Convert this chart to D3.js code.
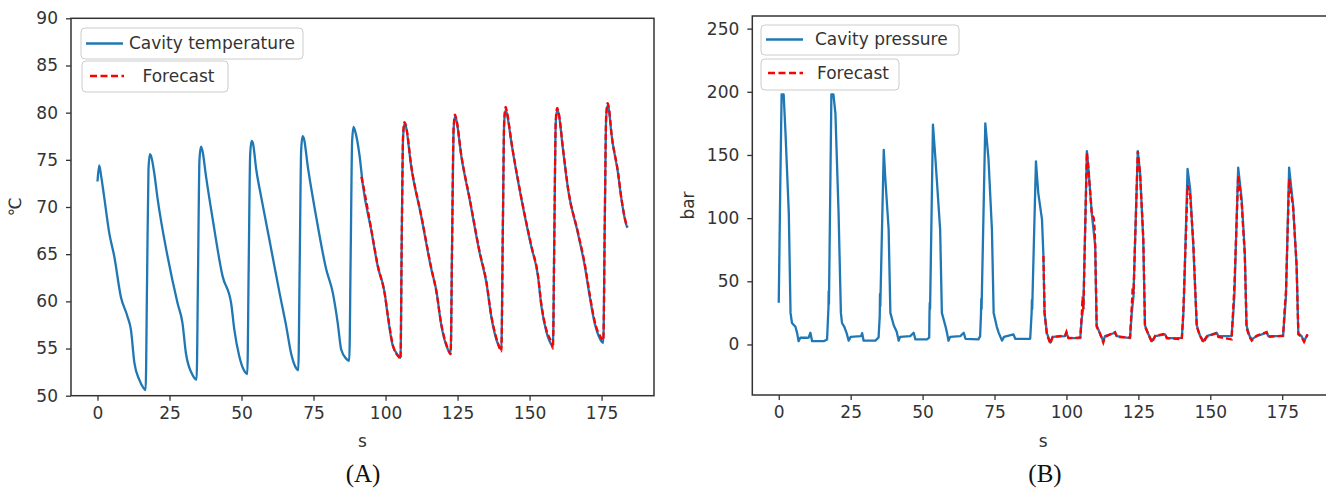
<!DOCTYPE html>
<html>
<head>
<meta charset="utf-8">
<script src="https://cdn.jsdelivr.net/npm/d3@7"></script>
<style>
  html, body { margin: 0; padding: 0; background: #fff; }
  svg { display: block; }
  text { font-family: "DejaVu Sans", sans-serif; }
</style>
</head>
<body>
<svg id="chart" width="1326" height="491"></svg>
<script>
// ---------------- DATA ----------------
// (A) Cavity temperature (s, ℃)
const tempTime = [0.0,0.6,1.2,2.3,4.1,5.8,8.1,10.4,11.6,12.8,14.5,16.0,16.7,17.2,17.7,18.2,18.7,
  19.7,20.9,24.3,27.8,29.5,30.7,33.0,34.4,34.9,35.4,35.9,36.4,
  37.7,40.0,43.4,46.4,47.5,49.2,51.0,52.0,52.5,53.0,53.5,54.0,
  55.1,56.8,59.7,63.2,65.5,67.2,69.0,69.7,70.2,70.7,71.2,71.7,
  73.0,75.9,79.4,81.7,83.4,84.6,86.4,87.4,87.9,88.4,88.9,89.4,
  91.0,92.1,95.0,97.3,99.7,100.8,102.5,104.6,105.2,105.6,106.1,106.6,107.1,
  108.9,112.4,115.9,117.6,119.4,121.5,122.6,123.1,123.6,124.1,124.6,
  126.3,129.2,132.7,135.0,136.7,139.0,140.2,140.7,141.2,141.7,142.2,
  143.7,147.2,150.6,152.9,154.1,155.9,157.6,158.1,158.6,159.1,159.6,160.1,
  161.6,163.4,166.8,169.2,170.9,172.6,174.5,175.6,176.1,176.6,177.1,177.6,
  178.4,180.7,181.9,183.7,184.0];
const tempValue = [72.7,74.4,73.4,71.1,67.2,64.8,60.5,58.4,57.0,53.5,51.7,50.8,50.6,62.0,74.0,75.6,75.3,
  73.6,70.8,64.8,59.8,57.7,54.5,52.2,51.7,63.0,75.0,76.4,76.0,
  73.2,68.7,62.7,59.8,57.0,54.2,52.6,52.3,64.0,75.5,77.0,76.7,
  74.0,71.1,66.5,60.9,57.4,54.5,52.9,52.7,64.0,76.0,77.5,77.2,
  74.3,69.0,63.4,60.9,57.7,54.9,53.9,53.7,65.0,77.0,78.5,78.1,
  75.4,72.4,67.6,63.7,60.9,58.4,55.3,54.2,54.0,66.0,77.5,78.9,78.5,
  74.3,69.0,63.4,61.2,57.4,55.0,54.5,66.0,78.0,79.6,79.2,
  75.4,70.8,65.1,62.0,58.4,55.5,54.9,67.0,79.0,80.3,79.8,
  76.8,70.8,65.8,62.7,59.5,56.7,55.4,55.2,67.0,79.0,80.3,79.9,
  76.1,71.8,67.2,63.7,60.5,57.7,56.0,55.6,68.0,79.5,80.8,80.2,
  77.8,73.6,70.8,68.0,67.8];
const tempForecastTime = [91.6,92.1,95.0,97.3,99.7,100.8,102.5,104.6,105.2,105.6,106.1,106.6,107.1,
  108.9,112.4,115.9,117.6,119.4,121.5,122.6,123.1,123.6,124.1,124.6,
  126.3,129.2,132.7,135.0,136.7,139.0,140.2,140.7,141.2,141.7,142.2,
  143.7,147.2,150.6,152.9,154.1,155.9,157.6,158.1,158.6,159.1,159.6,160.1,
  161.6,163.4,166.8,169.2,170.9,172.6,174.5,175.6,176.1,176.6,177.1,177.6,
  178.4,180.7,181.9,183.7,184.0];
const tempForecastValue = [73.2,72.5,67.7,63.8,60.8,58.5,55.4,54.1,53.9,66.0,77.6,79.0,78.6,
  74.4,69.1,63.5,61.1,57.5,55.1,54.4,66.2,78.2,79.8,79.3,
  75.5,70.9,65.2,62.1,58.5,55.6,54.7,67.2,79.3,80.6,80.0,
  76.9,70.9,65.9,62.8,59.7,56.9,55.6,55.0,67.3,79.2,80.5,80.0,
  76.2,71.9,67.3,63.9,60.7,57.9,56.3,55.9,68.2,79.7,81.0,80.4,
  77.9,73.7,70.9,68.1,67.9];

// (B) Cavity pressure (s, bar)
const presTime = [0.0,0.5,1.0,1.7,2.3,3.5,4.1,4.6,5.8,6.4,6.9,7.5,9.9,10.4,11.0,11.6,15.6,16.8,17.3,17.35,17.45,
  18.3,19.0,19.7,20.8,21.6,22.0,22.8,23.6,24.3,25.0,28.6,29.0,29.5,33.6,34.7,35.1,35.2,35.3,
  36.5,37.0,38.2,38.8,40.0,41.0,41.7,42.2,45.7,46.9,47.5,51.5,52.3,52.4,52.5,52.6,
  53.6,54.4,56.1,56.7,58.0,58.5,59.0,59.6,63.1,64.3,64.9,69.4,70.0,70.3,70.4,70.5,
  71.8,72.9,74.1,74.7,75.8,76.5,77.6,78.3,81.6,82.2,87.4,87.9,88.0,88.1,
  89.4,90.2,91.5,92.0,92.4,93.2,94.4,95.2,99.5,100.0,100.7,104.8,105.3,105.9,
  107.1,107.6,108.8,110.0,110.5,111.6,112.8,113.4,116.9,117.5,122.1,122.7,123.3,
  124.8,125.6,126.7,127.3,128.5,129.7,130.9,134.3,134.9,140.1,140.6,140.9,
  142.1,143.0,144.1,145.3,146.4,147.6,148.8,152.2,152.8,157.4,158.0,158.4,
  159.7,160.9,162.0,162.6,163.6,164.4,166.1,169.6,170.2,175.3,175.9,176.3,
  177.4,178.8,180.0,180.6,181.7,182.6,183.8];
const presValue = [33,120,198,198,170,104,25,17,14,9,2.6,5.3,5.3,5.5,9.3,2.6,2.6,4,30,42,32,
  198,198,183,104,25,17,14,9,3,6,6.6,9,3,3,5.5,22,40,30,
  154,133,91,25,15,10,3,6,6.6,9.3,4,4,5.5,25,33,28,
  174,149,91,25,14,9,3,6,6.6,9.3,4.5,4,6.6,24,36,28,
  175,147,91,25,14,9,3,6,8,4.5,4.5,25,35,28,
  145,120,99,70,25,9,1.5,6,6.6,9.3,5,5,20,30,
  153,141,104,78,15,9,2.6,6.6,9.3,6.6,5,25,38,
  153,136,83,15,8,2.6,6.6,8,5,5,22,40,
  139,123,78,15,7,2.6,6.6,9.3,6.6,6.6,25,40,
  140,115,73,15,7,4,6.6,9.3,6.6,6.6,25,38,
  140,110,62,9,6.6,2.6,8];
const presForecastTime = [92.0,92.4,93.2,94.4,95.2,99.5,100.0,100.7,104.8,105.3,105.6,105.9,
  107.1,107.6,108.8,109.5,109.8,110.0,110.5,111.6,112.8,113.4,116.9,117.5,122.1,122.7,123.0,123.3,
  124.8,125.6,126.7,127.3,128.5,129.7,130.9,134.3,134.9,140.1,140.6,140.9,
  142.1,143.0,144.1,145.3,146.4,147.6,148.8,152.2,152.8,157.4,158.0,158.4,
  159.7,160.9,162.0,162.6,163.6,164.4,166.1,169.6,170.2,175.3,175.9,176.3,
  177.4,178.8,180.0,180.6,181.7,182.6,183.8];
const presForecastValue = [70,25,8,0.5,6,7,10,5,5.5,22,38,28,
  152,140,104,100,92,78,14,9,1.5,6,9.8,6,5.5,30,45,40,
  153,135,85,14,8,1.5,7,8.5,5,4,25,45,
  126,118,80,14,7,1.5,6,9,6,4,30,48,
  134,112,70,13,6,3,7,9.8,6,7,30,42,
  131,108,63,8,6,2,8];

const xTicks = [0, 25, 50, 75, 100, 125, 150, 175];
const tempTicks = [50, 55, 60, 65, 70, 75, 80, 85, 90];
const presTicks = [0, 50, 100, 150, 200, 250];

// ---------------- DRAW ----------------
const svg = d3.select("#chart");
svg.append("rect").attr("width", 1326).attr("height", 491).attr("fill", "#fff");

const BLUE = "#1f77b4", RED = "#ff0000", AXIS = "#333";

function zip(t, v) { return t.map((d, i) => [d, v[i]]); }

function panel(cfg) {
  const g = svg.append("g");
  const x = d3.scaleLinear().domain(cfg.xDomain).range([cfg.left, cfg.right]);
  const y = d3.scaleLinear().domain(cfg.yDomain).range([cfg.bottom, cfg.top]);
  const clipId = "clip" + cfg.id;
  svg.append("clipPath").attr("id", clipId).append("rect")
    .attr("x", cfg.left).attr("y", cfg.top)
    .attr("width", cfg.right - cfg.left).attr("height", cfg.bottom - cfg.top);

  const line = d3.line().x(d => x(d[0])).y(d => y(d[1])).curve(cfg.curve);
  const plot = g.append("g").attr("clip-path", `url(#${clipId})`);
  plot.append("path").datum(zip(cfg.t, cfg.v))
    .attr("d", line).attr("fill", "none").attr("stroke", BLUE)
    .attr("stroke-width", 2.3).attr("stroke-linejoin", "round");
  plot.append("path").datum(zip(cfg.ft, cfg.fv))
    .attr("d", line).attr("fill", "none").attr("stroke", RED)
    .attr("stroke-width", 2.3).attr("stroke-dasharray", "6,3");

  // frame
  g.append("rect").attr("x", cfg.left).attr("y", cfg.top)
    .attr("width", cfg.right - cfg.left).attr("height", cfg.bottom - cfg.top)
    .attr("fill", "none").attr("stroke", AXIS).attr("stroke-width", 1.5);

  // axes
  const xa = g.append("g").attr("transform", `translate(0,${cfg.bottom})`)
    .call(d3.axisBottom(x).tickValues(xTicks).tickSize(5).tickPadding(6).tickFormat(d3.format("d")));
  const ya = g.append("g").attr("transform", `translate(${cfg.left},0)`)
    .call(d3.axisLeft(y).tickValues(cfg.yTicks).tickSize(5).tickPadding(8).tickFormat(d3.format("d")));
  [xa, ya].forEach(a => {
    a.select(".domain").remove();
    a.selectAll(".tick line").attr("stroke", AXIS).attr("stroke-width", 1.3);
    a.selectAll(".tick text").attr("fill", AXIS)
      .style("font-family", "DejaVu Sans").style("font-size", "17px");
  });

  // axis labels
  g.append("text").attr("x", (cfg.left + Math.min(cfg.right, cfg.visRight)) / 2 + cfg.xlabelShift)
    .attr("y", 447).attr("text-anchor", "middle").attr("fill", AXIS)
    .style("font-size", "17px").text("s");
  g.append("text").attr("transform", `translate(${cfg.ylabelX},${(cfg.top + cfg.bottom) / 2}) rotate(-90)`)
    .attr("text-anchor", "middle").attr("fill", AXIS)
    .style("font-size", "17px").text(cfg.ylabel);

  // legends
  cfg.legends.forEach(L => {
    g.append("rect").attr("x", L.bx).attr("y", L.by).attr("width", L.bw).attr("height", L.bh)
      .attr("rx", 4).attr("fill", "#fff").attr("fill-opacity", 0.85)
      .attr("stroke", "#cccccc").attr("stroke-width", 1);
    g.append("line").attr("x1", L.lx1).attr("x2", L.lx2).attr("y1", L.ly).attr("y2", L.ly)
      .attr("stroke", L.color).attr("stroke-width", 2.3)
      .attr("stroke-dasharray", L.dash ? "7,3.5" : null);
    g.append("text").attr("x", L.tx).attr("y", L.ly).attr("dy", "0.35em")
      .attr("fill", AXIS).style("font-size", "17px").text(L.label);
  });

  // caption
  svg.append("text").attr("x", cfg.capX).attr("y", 482).attr("text-anchor", "middle")
    .style("font-family", "Liberation Serif, serif").style("font-size", "25px")
    .attr("fill", "#111").text(cfg.caption);
}

panel({
  id: "A", left: 71, right: 654, top: 18.3, bottom: 395.7, visRight: 654, xlabelShift: 0,
  xDomain: [-9.2, 193.2], yDomain: [50, 90], yTicks: tempTicks,
  t: tempTime, v: tempValue, ft: tempForecastTime, fv: tempForecastValue,
  curve: d3.curveMonotoneX, ylabel: "℃", ylabelX: 21,
  legends: [
    { bx: 81, by: 28, bw: 222, bh: 31, lx1: 86, lx2: 123, ly: 43.5, tx: 129, label: "Cavity temperature", color: BLUE, dash: false },
    { bx: 82, by: 61, bw: 146, bh: 31, lx1: 90, lx2: 124, ly: 76, tx: 142.5, label: "Forecast", color: RED, dash: true }
  ],
  capX: 363, caption: "(A)"
});

panel({
  id: "B", left: 752.3, right: 1334, top: 16, bottom: 395, visRight: 1334, xlabelShift: 0,
  xDomain: [-9.19, 193.0], yDomain: [-40, 260], yTicks: presTicks,
  t: presTime, v: presValue, ft: presForecastTime, fv: presForecastValue,
  curve: d3.curveLinear, ylabel: "bar", ylabelX: 694,
  legends: [
    { bx: 761, by: 25, bw: 198, bh: 30, lx1: 766, lx2: 803, ly: 39.5, tx: 815, label: "Cavity pressure", color: BLUE, dash: false },
    { bx: 761, by: 59, bw: 138, bh: 31, lx1: 768, lx2: 803, ly: 73, tx: 817, label: "Forecast", color: RED, dash: true }
  ],
  capX: 1045, caption: "(B)"
});
</script>
</body>
</html>
